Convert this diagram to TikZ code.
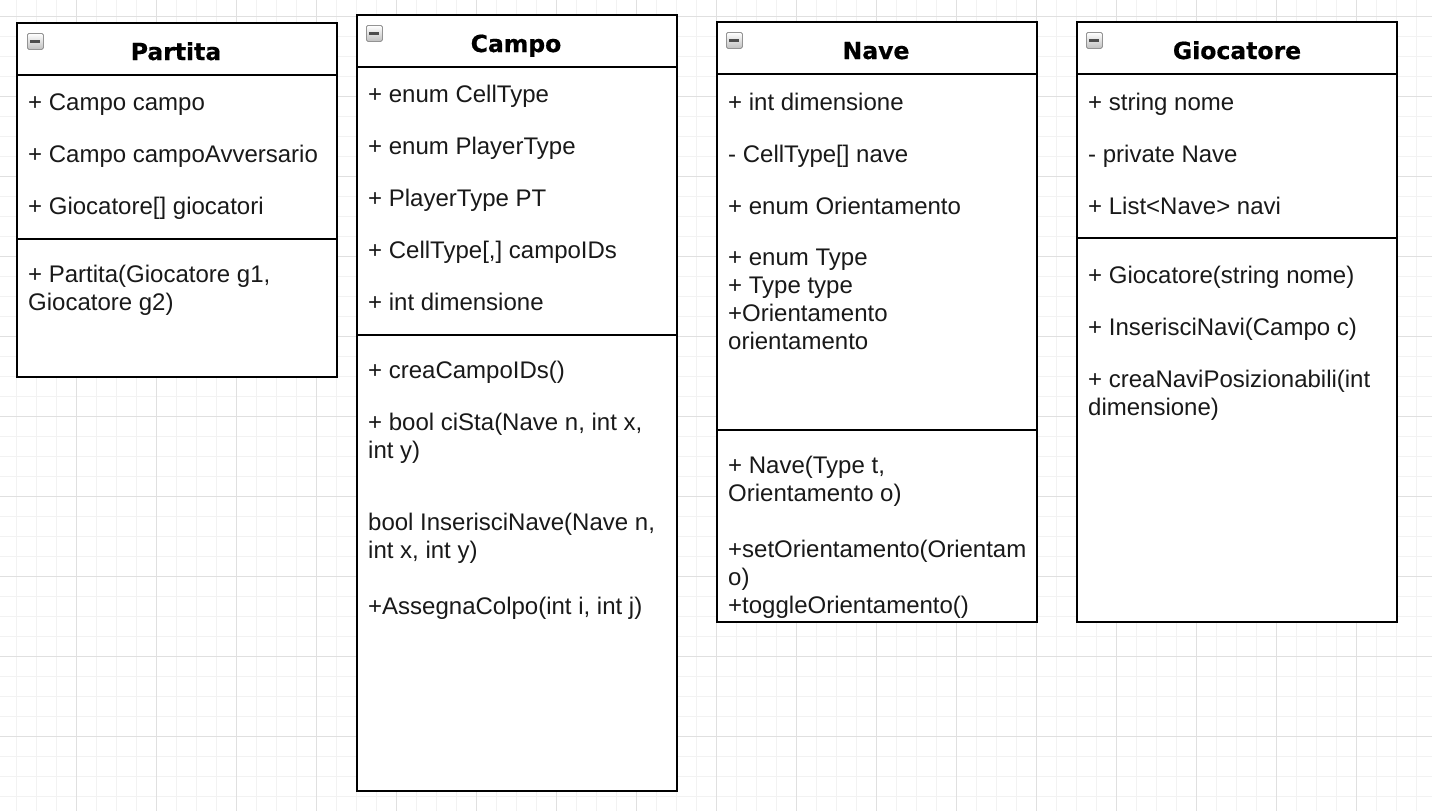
\documentclass[tikz,border=0pt]{standalone}
\usepackage{fontspec}
\newfontfamily\memberfont{Liberation Sans}
\newfontfamily\titlefont{DejaVu Sans}[BoldFeatures={FakeBold=0.6}]
\definecolor{gridminor}{HTML}{F2F2F2}
\definecolor{gridmajor}{HTML}{E0E0E0}
\begin{document}
\begin{tikzpicture}[x=1pt,y=-1pt,
    classbox/.style={draw, line width=2pt, fill=white},
    title/.style={font=\titlefont\bfseries\fontsize{23.5}{28}\selectfont, anchor=base, inner sep=0pt},
    member/.style={font=\memberfont\fontsize{24}{28}\selectfont, anchor=base west, inner sep=0pt, text=black!90},
    collapse/.style={draw=gray!85, line width=0.8pt, rounded corners=1.5pt, minimum size=16pt, inner sep=0pt,
      top color=white, bottom color=gray!50, anchor=north west,
      path picture={\draw[line width=2.2pt, black!70]
        ([xshift=3pt]path picture bounding box.west) -- ([xshift=-3pt]path picture bounding box.east);}}]
  \useasboundingbox (0,0) rectangle (1432,811);
  \fill[white] (0,0) rectangle (1432,811);
  \foreach \i in {0,...,70}
    \draw[gridminor, line width=1pt] (16.7+20*\i,0) -- (16.7+20*\i,811);
  \foreach \j in {0,...,39}
    \draw[gridminor, line width=1pt] (0,16+20*\j) -- (1432,16+20*\j);
  \foreach \i in {0,...,17}
    \draw[gridmajor, line width=1pt] (76.7+80*\i,0) -- (76.7+80*\i,811);
  \foreach \j in {0,...,9}
    \draw[gridmajor, line width=1pt] (0,16+80*\j) -- (1432,16+80*\j);

  % Partita
  \draw[classbox] (17,23) rectangle (337,377);
  \draw[line width=2pt] (17,75) -- (337,75) (17,239) -- (337,239);
  \node[collapse] (partitaicon) at (27,33) {};
  \node[title] (partita) at (176,60) {Partita};
  \node[member] (partita1) at (28,110) {+ Campo campo};
  \node[member] (partita2) at (28,162) {+ Campo campoAvversario};
  \node[member] (partita3) at (28,214) {+ Giocatore[] giocatori};
  \node[member] (partita4) at (28,282) {+ Partita(Giocatore g1,};
  \node[member] (partita5) at (28,310) {Giocatore g2)};

  % Campo
  \draw[classbox] (357,15) rectangle (677,791);
  \draw[line width=2pt] (357,67) -- (677,67) (357,335) -- (677,335);
  \node[collapse] (campoicon) at (366,25) {};
  \node[title] (campo) at (516,52) {Campo};
  \node[member] (campo1) at (368,102) {+ enum CellType};
  \node[member] (campo2) at (368,154) {+ enum PlayerType};
  \node[member] (campo3) at (368,206) {+ PlayerType PT};
  \node[member] (campo4) at (368,258) {+ CellType[,] campoIDs};
  \node[member] (campo5) at (368,310) {+ int dimensione};
  \node[member] (campo6) at (368,378) {+ creaCampoIDs()};
  \node[member] (campo7) at (368,430) {+ bool ciSta(Nave n, int x,};
  \node[member] (campo8) at (368,458) {int y)};
  \node[member] (campo9) at (368,530) {bool InserisciNave(Nave n,};
  \node[member] (campo10) at (368,558) {int x, int y)};
  \node[member] (campo11) at (368,614) {+AssegnaColpo(int i, int j)};

  % Nave
  \draw[classbox] (717,22) rectangle (1037,622);
  \draw[line width=2pt] (717,74) -- (1037,74) (717,430) -- (1037,430);
  \node[collapse] (naveicon) at (726,32) {};
  \node[title] (nave) at (876,59) {Nave};
  \node[member] (nave1) at (728,110) {+ int dimensione};
  \node[member] (nave2) at (728,162) {- CellType[] nave};
  \node[member] (nave3) at (728,214) {+ enum Orientamento};
  \node[member] (nave4) at (728,265) {+ enum Type};
  \node[member] (nave5) at (728,293) {+ Type type};
  \node[member] (nave6) at (728,321) {+Orientamento};
  \node[member] (nave7) at (728,349) {orientamento};
  \node[member] (nave8) at (728,473) {+ Nave(Type t,};
  \node[member] (nave9) at (728,501) {Orientamento o)};
  \node[member] (nave10) at (728,557) {+setOrientamento(Orientam};
  \node[member] (nave11) at (728,585) {o)};
  \node[member] (nave12) at (728,613) {+toggleOrientamento()};

  % Giocatore
  \draw[classbox] (1077,22) rectangle (1397,622);
  \draw[line width=2pt] (1077,74) -- (1397,74) (1077,238) -- (1397,238);
  \node[collapse] (giocatoreicon) at (1086,32) {};
  \node[title] (giocatore) at (1237,59) {Giocatore};
  \node[member] (giocatore1) at (1088,110) {+ string nome};
  \node[member] (giocatore2) at (1088,162) {- private Nave};
  \node[member] (giocatore3) at (1088,214) {+ List<Nave> navi};
  \node[member] (giocatore4) at (1088,283) {+ Giocatore(string nome)};
  \node[member] (giocatore5) at (1088,335) {+ InserisciNavi(Campo c)};
  \node[member] (giocatore6) at (1088,387) {+ creaNaviPosizionabili(int};
  \node[member] (giocatore7) at (1088,415) {dimensione)};
\end{tikzpicture}
\end{document}
